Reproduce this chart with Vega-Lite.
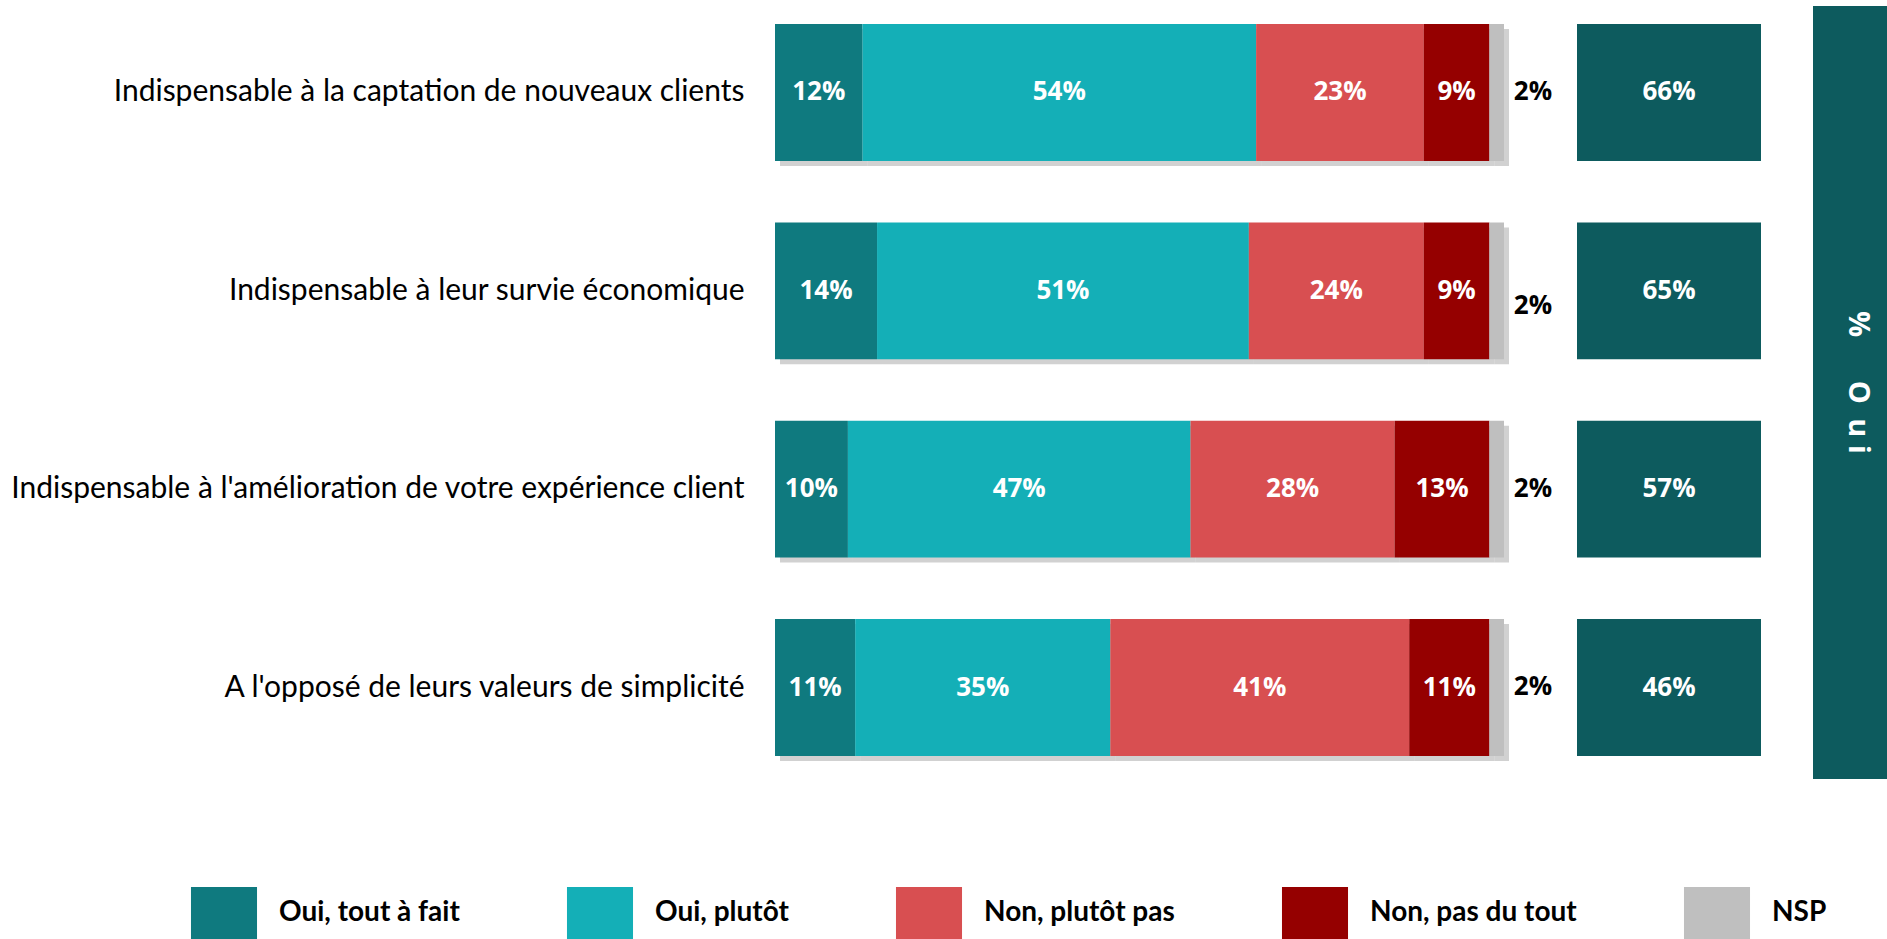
{
  "$schema": "https://vega.github.io/schema/vega-lite/v6.json",
  "background": "white",
  "padding": {"left": 10, "top": 6, "right": 0, "bottom": 0},
  "config": {"view": {"stroke": null}},
  "datasets": {
    "segments": [
      {"item": "Indispensable à la captation de nouveaux clients", "cat": "Oui, tout à fait", "rank": 1, "value": 0.12},
      {"item": "Indispensable à la captation de nouveaux clients", "cat": "Oui, plutôt", "rank": 2, "value": 0.54},
      {"item": "Indispensable à la captation de nouveaux clients", "cat": "Non, plutôt pas", "rank": 3, "value": 0.23},
      {"item": "Indispensable à la captation de nouveaux clients", "cat": "Non, pas du tout", "rank": 4, "value": 0.09},
      {"item": "Indispensable à la captation de nouveaux clients", "cat": "NSP", "rank": 5, "value": 0.02},
      {"item": "Indispensable à leur survie économique", "cat": "Oui, tout à fait", "rank": 1, "value": 0.14},
      {"item": "Indispensable à leur survie économique", "cat": "Oui, plutôt", "rank": 2, "value": 0.51},
      {"item": "Indispensable à leur survie économique", "cat": "Non, plutôt pas", "rank": 3, "value": 0.24},
      {"item": "Indispensable à leur survie économique", "cat": "Non, pas du tout", "rank": 4, "value": 0.09},
      {"item": "Indispensable à leur survie économique", "cat": "NSP", "rank": 5, "value": 0.02},
      {"item": "Indispensable à l'amélioration de votre expérience client", "cat": "Oui, tout à fait", "rank": 1, "value": 0.10},
      {"item": "Indispensable à l'amélioration de votre expérience client", "cat": "Oui, plutôt", "rank": 2, "value": 0.47},
      {"item": "Indispensable à l'amélioration de votre expérience client", "cat": "Non, plutôt pas", "rank": 3, "value": 0.28},
      {"item": "Indispensable à l'amélioration de votre expérience client", "cat": "Non, pas du tout", "rank": 4, "value": 0.13},
      {"item": "Indispensable à l'amélioration de votre expérience client", "cat": "NSP", "rank": 5, "value": 0.02},
      {"item": "A l'opposé de leurs valeurs de simplicité", "cat": "Oui, tout à fait", "rank": 1, "value": 0.11},
      {"item": "A l'opposé de leurs valeurs de simplicité", "cat": "Oui, plutôt", "rank": 2, "value": 0.35},
      {"item": "A l'opposé de leurs valeurs de simplicité", "cat": "Non, plutôt pas", "rank": 3, "value": 0.41},
      {"item": "A l'opposé de leurs valeurs de simplicité", "cat": "Non, pas du tout", "rank": 4, "value": 0.11},
      {"item": "A l'opposé de leurs valeurs de simplicité", "cat": "NSP", "rank": 5, "value": 0.02}
    ],
    "totals": [
      {"item": "Indispensable à la captation de nouveaux clients", "oui": 0.66},
      {"item": "Indispensable à leur survie économique", "oui": 0.65},
      {"item": "Indispensable à l'amélioration de votre expérience client", "oui": 0.57},
      {"item": "A l'opposé de leurs valeurs de simplicité", "oui": 0.46}
    ],
    "panel": [{"label": "%\u2003\u2002O\u2002u\u2009\u200Ai"}]
  },
  "spacing": 52,
  "hconcat": [
    {
      "spacing": 24,
      "hconcat": [
        {
          "width": 729,
          "height": 768,
          "data": {"name": "segments"},
          "encoding": {
            "y": {
              "field": "item", "type": "nominal",
              "sort": ["Indispensable à la captation de nouveaux clients", "Indispensable à leur survie économique", "Indispensable à l'amélioration de votre expérience client", "A l'opposé de leurs valeurs de simplicité"],
              "scale": {"paddingInner": 0.31, "paddingOuter": 0.091},
              "axis": {"title": null, "domain": false, "ticks": false, "labelPadding": 31, "labelFont": "Lato", "labelFontSize": 30, "labelColor": "#000000", "labelLimit": 1000}
            }
          },
          "layer": [
            {
              "mark": {"type": "bar", "color": "#9a9a9a", "opacity": 0.45},
              "encoding": {
                "x": {"field": "value", "type": "quantitative", "stack": "zero", "scale": {"domain": [0, 1], "nice": false}, "axis": null},
                "order": {"field": "rank"},
                "detail": {"field": "cat"},
                "xOffset": {"value": 5},
                "yOffset": {"value": 5}
              }
            },
            {
              "mark": {"type": "bar"},
              "encoding": {
                "x": {"field": "value", "type": "quantitative", "stack": "zero", "scale": {"domain": [0, 1], "nice": false}, "axis": null},
                "order": {"field": "rank"},
                "color": {
                  "field": "cat", "type": "nominal",
                  "scale": {"domain": ["Oui, tout à fait", "Oui, plutôt", "Non, plutôt pas", "Non, pas du tout", "NSP"], "range": ["#0F7A7F", "#14AFB7", "#D84F51", "#950000", "#BFBFBF"]},
                  "legend": {
                    "title": null, "orient": "none", "legendX": -577, "legendY": 881, "direction": "horizontal",
                    "symbolType": "M-1.27,-1H1.27V1H-1.27Z", "symbolSize": 2704, "symbolStrokeWidth": 0, "symbolOpacity": 1,
                    "labelFont": "Lato", "labelFontWeight": "bold", "labelFontSize": 28, "labelColor": "#000000", "labelOffset": 29,
                    "columnPadding": 106, "labelLimit": 400
                  }
                }
              }
            },
            {
              "mark": {"type": "text", "font": "Open Sans", "fontWeight": "bold", "fontSize": 26, "color": "white", "baseline": "middle", "align": "center"},
              "encoding": {
                "x": {"field": "value", "type": "quantitative", "stack": "zero", "bandPosition": 0.5},
                "order": {"field": "rank"},
                "detail": {"field": "cat"},
                "text": {"condition": {"test": "datum.cat === 'NSP'", "value": ""}, "field": "value", "type": "quantitative", "format": ".0%"}
              }
            },
            {
              "transform": [{"filter": "datum.cat === 'NSP' && datum.item !== 'Indispensable à leur survie économique'"}],
              "mark": {"type": "text", "font": "Open Sans", "fontWeight": "bold", "fontSize": 26, "color": "black", "baseline": "middle", "align": "center", "dx": 29},
              "encoding": {
                "x": {"value": "width"},
                "yOffset": {"value": 68},
                "text": {"field": "value", "type": "quantitative", "format": ".0%"}
              }
            },
            {
              "transform": [{"filter": "datum.cat === 'NSP' && datum.item === 'Indispensable à leur survie économique'"}],
              "mark": {"type": "text", "font": "Open Sans", "fontWeight": "bold", "fontSize": 26, "color": "black", "baseline": "middle", "align": "center", "dx": 29},
              "encoding": {
                "x": {"value": "width"},
                "yOffset": {"value": 84},
                "text": {"field": "value", "type": "quantitative", "format": ".0%"}
              }
            }
          ]
        },
        {
          "width": 184,
          "height": 768,
          "data": {"name": "totals"},
          "encoding": {
            "y": {
              "field": "item", "type": "nominal",
              "sort": ["Indispensable à la captation de nouveaux clients", "Indispensable à leur survie économique", "Indispensable à l'amélioration de votre expérience client", "A l'opposé de leurs valeurs de simplicité"],
              "scale": {"paddingInner": 0.31, "paddingOuter": 0.091},
              "axis": null
            }
          },
          "layer": [
            {"mark": {"type": "bar", "color": "#0D5B5E"}},
            {
              "mark": {"type": "text", "font": "Open Sans", "fontWeight": "bold", "fontSize": 26, "color": "white", "baseline": "middle", "align": "center"},
              "encoding": {"text": {"field": "oui", "type": "quantitative", "format": ".0%"}}
            }
          ]
        }
      ]
    },
    {
      "width": 76,
      "height": 773,
      "view": {"fill": "#0D5B5E", "stroke": null},
      "data": {"name": "panel"},
      "mark": {"type": "text", "font": "Open Sans", "fontWeight": "bold", "fontSize": 29, "color": "white", "angle": 90, "baseline": "middle", "align": "center", "dx": -10, "dy": -7},
      "encoding": {"text": {"field": "label"}}
    }
  ]
}
